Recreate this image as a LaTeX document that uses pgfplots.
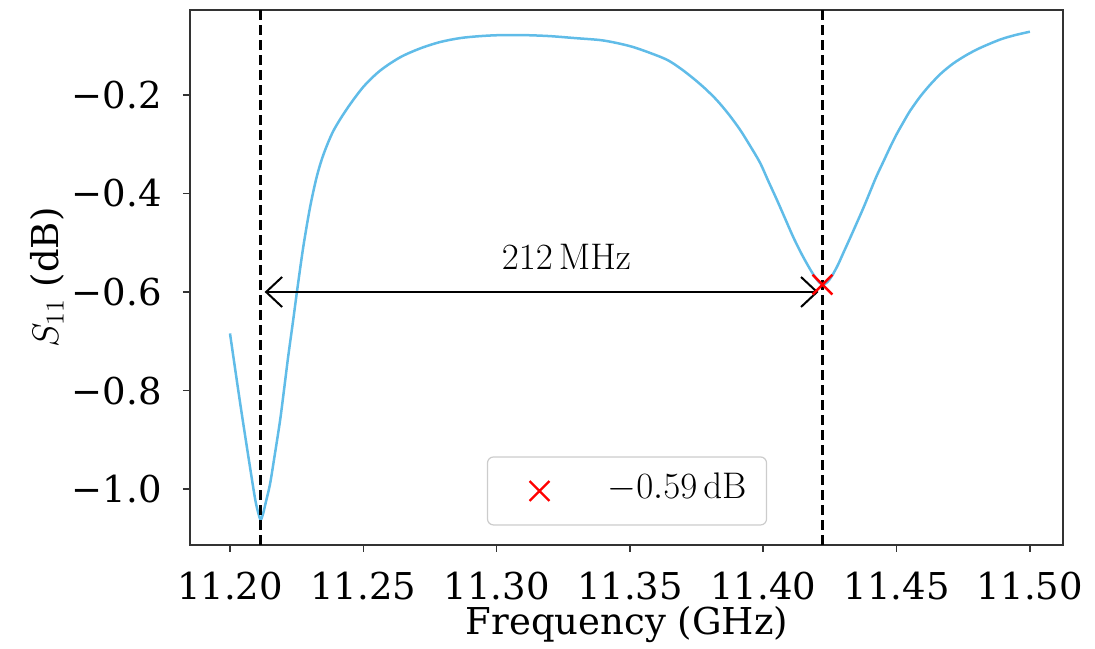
\RequirePackage{fix-cm}
\documentclass[border=0pt]{standalone}
\usepackage[no-math]{fontspec}
\setmainfont{DejaVu Serif}
\usepackage{pgfplots}
\usepackage{pgfplotstable}
\pgfplotsset{compat=1.18}
\usetikzlibrary{arrows.meta}
\definecolor{curvecol}{RGB}{96,188,232}
\pgfplotstableread{
f s
11.2000 -0.684
11.2038 -0.825
11.2075 -0.955
11.2095 -1.022
11.2106 -1.048
11.2115 -1.062
11.2124 -1.050
11.2135 -1.025
11.2150 -0.990
11.2168 -0.930
11.2188 -0.860
11.2203 -0.797
11.2218 -0.732
11.2237 -0.657
11.2252 -0.596
11.2275 -0.508
11.2300 -0.429
11.2325 -0.367
11.2350 -0.322
11.2387 -0.274
11.2438 -0.229
11.2500 -0.184
11.2563 -0.151
11.2638 -0.124
11.2713 -0.106
11.2788 -0.093
11.2863 -0.085
11.2938 -0.081
11.3013 -0.079
11.3106 -0.079
11.3200 -0.081
11.3294 -0.085
11.3388 -0.089
11.3451 -0.095
11.3511 -0.103
11.3575 -0.115
11.3639 -0.129
11.3688 -0.146
11.3736 -0.166
11.3781 -0.187
11.3826 -0.211
11.3871 -0.240
11.3913 -0.271
11.3950 -0.303
11.3988 -0.338
11.4018 -0.374
11.4051 -0.413
11.4081 -0.450
11.4111 -0.487
11.4138 -0.517
11.4164 -0.543
11.4186 -0.563
11.4204 -0.577
11.4222 -0.585
11.4240 -0.580
11.4258 -0.567
11.4280 -0.545
11.4300 -0.521
11.4326 -0.490
11.4349 -0.462
11.4375 -0.430
11.4401 -0.396
11.4424 -0.366
11.4450 -0.336
11.4476 -0.306
11.4499 -0.281
11.4525 -0.256
11.4550 -0.233
11.4588 -0.204
11.4625 -0.180
11.4666 -0.157
11.4711 -0.137
11.4760 -0.120
11.4813 -0.105
11.4888 -0.088
11.4944 -0.079
11.5000 -0.072
}\datatable
\begin{document}
\begin{tikzpicture}[font=\fontsize{18.5}{22}\selectfont]
\begin{axis}[
  scale only axis, width=436.5pt, height=267.5pt,
  xmin=11.185, xmax=11.5124, ymin=-1.1132, ymax=-0.028,
  axis line style={black!80, line width=0.8pt},
  tick align=outside, major tick length=3.5pt,
  tick style={black!80, line width=0.8pt},
  xtick pos=lower, ytick pos=left,
  xtick={11.20,11.25,11.30,11.35,11.40,11.45,11.50},
  xticklabels={11.20,11.25,11.30,11.35,11.40,11.45,11.50},
  ytick={-1.0,-0.8,-0.6,-0.4,-0.2},
  yticklabels={−1.0,−0.8,−0.6,−0.4,−0.2},
  xticklabel style={anchor=north, inner sep=0pt, yshift=-10pt},
  yticklabel style={anchor=east, inner sep=0pt, xshift=-10.5pt},
  xlabel={Frequency (GHz)}, ylabel={$S_{11}$ (dB)},
  xlabel style={at={(rel axis cs:0.5006,-0.168)}, anchor=base, inner sep=0pt},
  ylabel style={at={(rel axis cs:-0.151,0.5)}, anchor=base, inner sep=0pt},
  legend style={at={(rel axis cs:0.5006,0.101)}, anchor=center, draw=black!20, line width=0.6pt, rounded corners=3pt, inner xsep=10pt, inner ysep=8.5pt, fill=white, nodes={inner sep=0pt, text height=12.5pt, text depth=4.5pt}},
  legend image code/.code={\path[draw=none,fill=none] (0pt,0pt) -- (50pt,0pt); \draw[#1] plot[only marks] coordinates {(16pt,0pt)};},
]
\addplot[curvecol, line width=1.25pt, smooth, forget plot] table[x=f,y=s]{\datatable};
\addplot[black, line width=1.2pt, dash pattern=on 5pt off 2.5pt, forget plot] coordinates {(11.2115,-1.1132) (11.2115,-0.028)};
\addplot[black, line width=1.2pt, dash pattern=on 5pt off 2.5pt, forget plot] coordinates {(11.4222,-1.1132) (11.4222,-0.028)};
\draw[{Straight Barb[length=8pt,width=15pt]}-{Straight Barb[length=8pt,width=15pt]}, line width=1pt, shorten <=2pt, shorten >=2pt] (axis cs:11.2115,-0.6) -- (axis cs:11.4222,-0.6);
\node at (axis cs:11.3262,-0.529) {$212\,\mathrm{MHz}$};
\addplot[only marks, mark=x, mark size=7pt, red, mark options={line width=1.2pt}] coordinates {(11.4222,-0.585)};
\addlegendentry{$-0.59\,\mathrm{dB}$}
\coordinate (BL) at (rel axis cs:-0.21764,-0.19439);
\coordinate (TR) at (rel axis cs:1.03666,1.01869);
\end{axis}
\pgfresetboundingbox
\path[use as bounding box] (BL) rectangle (TR);
\end{tikzpicture}
\end{document}
